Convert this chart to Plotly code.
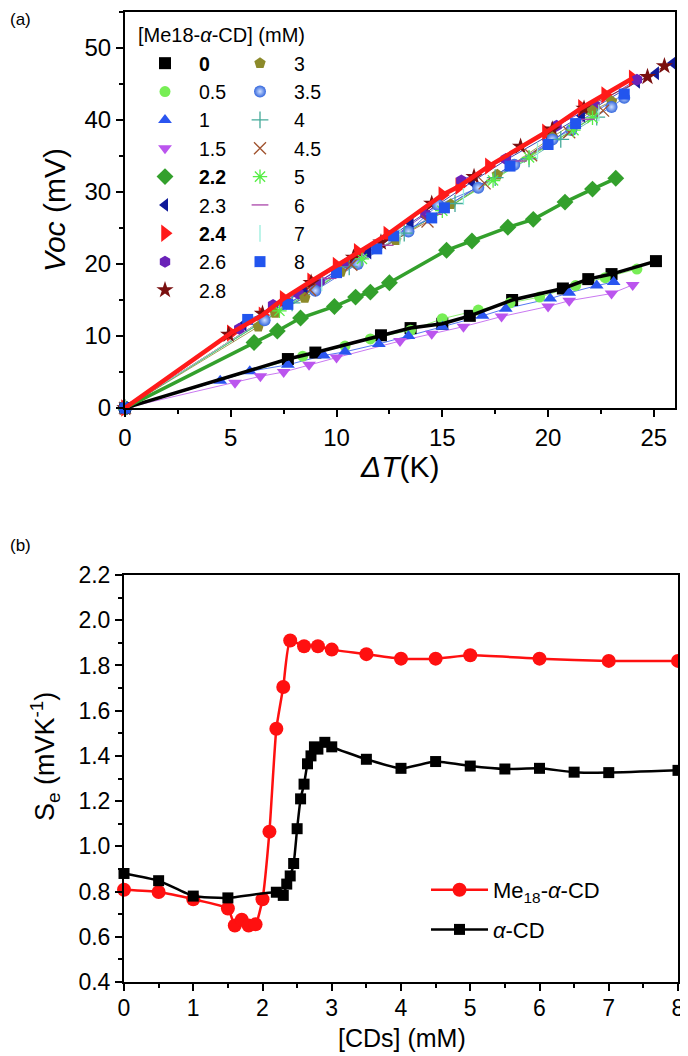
import plotly.graph_objects as go

# The page adds an 8 px body margin, so the figure is 8 px smaller on each side
# and reference pixel positions are shifted by 8 px.
W, H = 680, 1048
OFF = 8
FONT = "Liberation Sans, Arial, sans-serif"

# ---------------- Panel (a) data: Voc (mV) vs dT (K) ----------------
conc_labels = ["0", "0.5", "1", "1.5", "2.2", "2.3", "2.4", "2.6", "2.8",
               "3", "3.5", "4", "4.5", "5", "6", "7", "8"]

dT_0 = [0, 7.7, 9.0, 12.1, 13.5, 15.0, 16.3, 18.3, 20.7, 21.9, 23.0, 25.1]
voc_0 = [0, 6.8, 7.7, 10.1, 11.1, 11.7, 12.8, 15.0, 16.6, 17.9, 18.6, 20.4]
dT_05 = [0, 8.4, 10.4, 11.6, 13.5, 15.0, 16.7, 18.2, 19.6, 21.3, 22.7, 24.2]
voc_05 = [0, 7.2, 8.6, 9.6, 10.8, 12.4, 13.6, 14.6, 15.4, 17.0, 18.1, 19.3]
dT_1 = [0, 4.5, 5.9, 7.7, 9.4, 10.4, 12.0, 13.4, 15.0, 16.9, 18.0, 20.1, 21.0, 22.3, 23.1]
voc_1 = [0, 3.8, 5.1, 6.0, 7.3, 7.8, 8.9, 10.0, 11.3, 12.8, 13.8, 15.2, 16.0, 17.0, 17.5]
dT_15 = [0, 5.2, 6.4, 7.5, 8.7, 10.0, 13.0, 14.5, 16.0, 17.8, 20.0, 21.0, 23.0, 24.0]
voc_15 = [0, 3.5, 4.4, 5.0, 6.0, 7.0, 9.3, 10.3, 11.3, 12.7, 14.1, 14.9, 15.9, 17.1]
dT_22 = [0, 6.1, 7.2, 8.3, 9.9, 10.9, 11.6, 12.5, 15.2, 16.4, 18.1, 19.3, 20.8, 22.1, 23.2]
voc_22 = [0, 9.1, 10.7, 12.5, 14.1, 15.4, 16.1, 17.4, 21.9, 23.2, 25.1, 26.2, 28.6, 30.4, 31.9]
dT_23 = [0, 5.6, 7.5, 8.5, 11.5, 13.5, 16.4, 18.1, 20.0, 21.6, 24.2, 25.1, 25.9]
voc_23 = [0, 11.6, 14.6, 16.4, 21.6, 25.7, 31.4, 34.6, 37.8, 40.6, 45.3, 46.5, 47.9]
dT_24 = [0, 5.0, 6.5, 7.5, 8.8, 10.0, 11.0, 12.4, 15.0, 15.8, 17.2, 19.9, 21.6, 22.7, 24.0]
voc_24 = [0, 10.4, 12.9, 15.2, 17.6, 19.8, 21.7, 24.1, 29.6, 30.8, 33.6, 38.3, 41.7, 43.5, 45.8]
dT_26 = [0, 5.4, 7.0, 8.2, 9.2, 10.5, 12.7, 14.2, 15.9, 18.0, 20.4, 22.2, 24.2]
voc_26 = [0, 11.0, 14.3, 15.9, 17.6, 20.1, 23.8, 26.9, 31.6, 34.6, 39.2, 42.0, 45.6]
dT_28 = [0, 4.9, 6.5, 8.8, 10.8, 12.1, 14.5, 16.5, 18.7, 20.2, 21.7, 24.7, 25.5]
voc_28 = [0, 10.2, 13.1, 17.4, 20.9, 23.0, 28.4, 32.1, 36.3, 38.7, 41.6, 46.0, 47.5]
dT_3 = [0, 6.3, 7.1, 8.5, 10.2, 12.8, 15.4, 17.6, 20.2, 22.1, 23.0]
voc_3 = [0, 11.3, 13.2, 15.3, 18.9, 23.3, 28.3, 32.4, 37.6, 41.3, 42.6]
dT_35 = [0, 6.6, 9.0, 11.0, 13.4, 14.8, 16.7, 18.4, 20.2, 21.1, 23.0, 23.6]
voc_35 = [0, 12.2, 16.3, 20.0, 24.5, 28.2, 30.6, 33.8, 37.3, 38.6, 41.8, 43.1]
dT_4 = [0, 7.9, 10.6, 13.2, 15.6, 17.5, 19.1, 20.6, 22.3]
voc_4 = [0, 14.6, 19.6, 24.3, 28.4, 32.0, 34.6, 37.3, 40.4]
dT_45 = [0, 8.75, 10.7, 14.3, 17.0, 19.2, 21.0, 22.6]
voc_45 = [0, 16.4, 19.9, 25.9, 31.2, 35.1, 38.3, 41.3]
dT_5 = [0, 7.3, 11.2, 15.0, 17.4, 19.1, 21.2, 22.1]
voc_5 = [0, 13.5, 20.7, 27.4, 31.6, 34.8, 38.6, 40.3]
dT_6 = [0, 9.6, 12.3, 14.6, 18.6, 21.8]
voc_6 = [0, 18.0, 22.6, 26.9, 34.3, 40.1]
dT_7 = [0, 9.3, 13.0, 16.0, 19.5, 22.4]
voc_7 = [0, 17.4, 23.9, 29.4, 35.8, 41.0]
dT_8 = [0, 5.8, 7.7, 10.0, 11.9, 12.7, 14.5, 15.1, 18.2, 20.0, 21.3, 23.6]
voc_8 = [0, 12.3, 14.4, 18.8, 22.1, 23.9, 26.4, 27.8, 33.6, 36.6, 39.5, 43.6]

series_a = [
    # label, x, y, symbol, colour, size, legend column, bold
    ("0", dT_0, voc_0, "square", "#000000", 12, 1, True),
    ("0.5", dT_05, voc_05, "circle", "#77ee55", 11, 1, False),
    ("1", dT_1, voc_1, "triangle-up", "#2a55f0", 12, 1, False),
    ("1.5", dT_15, voc_15, "triangle-down", "#bb55ee", 12, 1, False),
    ("2.2", dT_22, voc_22, "diamond", "#33a02c", 13, 1, True),
    ("2.3", dT_23, voc_23, "triangle-left", "#101a99", 12, 1, False),
    ("2.4", dT_24, voc_24, "triangle-right", "#ff1a1a", 15, 1, True),
    ("2.6", dT_26, voc_26, "hexagon", "#6a22b8", 12, 1, False),
    ("2.8", dT_28, voc_28, "star", "#7a1010", 13, 1, False),
    ("3", dT_3, voc_3, "pentagon", "#8c8a2a", 12, 2, False),
    ("3.5", dT_35, voc_35, "circle", "#3366dd", 12, 2, False),
    ("4", dT_4, voc_4, "cross-thin", "#44aa99", 12, 2, False),
    ("4.5", dT_45, voc_45, "x-thin", "#a0522d", 12, 2, False),
    ("5", dT_5, voc_5, "asterisk", "#55ee44", 12, 2, False),
    ("6", dT_6, voc_6, "line-ew", "#aa44aa", 12, 2, False),
    ("7", dT_7, voc_7, "line-ns", "#99eedd", 12, 2, False),
    ("8", dT_8, voc_8, "square", "#2255ee", 11, 2, False),
]
thick = {"0": 3.5, "2.2": 3.5, "2.4": 4.5}

# ---------------- Panel (b) data: Se vs [CDs] ----------------
cd_me18 = [0, 0.5, 1, 1.5, 1.6, 1.7, 1.8, 1.9, 2.0, 2.1, 2.2, 2.3, 2.4, 2.6, 2.8, 3.0,
           3.5, 4, 4.5, 5, 6, 7, 8]
se_me18 = [0.808, 0.798, 0.766, 0.725, 0.650, 0.675, 0.650, 0.655, 0.766, 1.065, 1.52,
           1.705, 1.91, 1.885, 1.885, 1.87, 1.85, 1.83, 1.83, 1.845, 1.83, 1.82, 1.82]
cd_alpha = [0, 0.5, 1, 1.5, 2.2, 2.3, 2.35, 2.4, 2.45, 2.5, 2.55, 2.6, 2.65, 2.7,
            2.75, 2.8, 2.9, 3.0, 3.5, 4, 4.5, 5, 5.5, 6, 6.5, 7, 8]
se_alpha = [0.88, 0.848, 0.78, 0.772, 0.797, 0.783, 0.833, 0.869, 0.924, 1.078, 1.21,
            1.275, 1.365, 1.40, 1.44, 1.43, 1.46, 1.44, 1.385, 1.345, 1.375, 1.355,
            1.342, 1.345, 1.328, 1.326, 1.336]

fig = go.Figure()

# thin connecting lines (panel a)
for lab, xs, ys, sym, col, sz, lcol, bold in series_a:
    if lab in thick:
        continue
    fig.add_trace(go.Scatter(x=xs, y=ys, mode="lines", line=dict(color=col, width=0.8),
                             showlegend=False, hoverinfo="skip", xaxis="x", yaxis="y"))

# markers (panel a)
for lab, xs, ys, sym, col, sz, lcol, bold in series_a:
    marker = dict(symbol=sym, size=sz, color=col, line=dict(width=0))
    if sym in ("cross-thin", "x-thin", "asterisk", "line-ew", "line-ns"):
        marker["line"] = dict(color=col, width=1.3)
    if lab == "3.5":
        marker["gradient"] = dict(type="radial", color="#cfe0ff")
    name = f"<b>{lab}</b>" if bold else lab
    fig.add_trace(go.Scatter(
        x=xs, y=ys, mode="markers", marker=marker, name=name,
        legend="legend" if lcol == 1 else "legend2",
        cliponaxis=False, xaxis="x", yaxis="y"))

# thick lines (panel a)
for lab, xs, ys, sym, col, sz, lcol, bold in series_a:
    if lab in thick:
        fig.add_trace(go.Scatter(x=xs, y=ys, mode="lines",
                                 line=dict(color=col, width=thick[lab]),
                                 showlegend=False, hoverinfo="skip", xaxis="x", yaxis="y"))

# panel b
fig.add_trace(go.Scatter(
    x=cd_me18, y=se_me18, mode="lines+markers", name="Me<sub>18</sub>-<i>α</i>-CD",
    line=dict(color="#ff1010", width=2.5, shape="spline", smoothing=0.5),
    marker=dict(symbol="circle", size=14, color="#ff1010"),
    legend="legend3", legendgroup="g1", xaxis="x2", yaxis="y2", cliponaxis=False))
fig.add_trace(go.Scatter(
    x=cd_alpha, y=se_alpha, mode="lines+markers", name="<i>α</i>-CD",
    line=dict(color="#000000", width=2.5, shape="spline", smoothing=0.5),
    marker=dict(symbol="square", size=11, color="#000000"),
    legend="legend3", legendgroup="g2", xaxis="x2", yaxis="y2", cliponaxis=False))

def px_x(p):
    return (p - OFF) / W

def px_y(p):
    return 1 - (p - OFF) / H

axis_common = dict(showline=True, linecolor="black", linewidth=2, mirror=True,
                   ticks="outside", tickcolor="black", tickwidth=1.5, ticklen=7,
                   showgrid=False, zeroline=False, automargin=False,
                   tickfont=dict(family=FONT, size=24, color="black"))

fig.update_layout(
    width=W, height=H, margin=dict(l=0, r=0, t=0, b=0),
    paper_bgcolor="white", plot_bgcolor="white",
    font=dict(family=FONT, color="black"),
    xaxis=dict(domain=[px_x(125), px_x(675)], range=[0, 26], anchor="y",
               tickvals=[0, 5, 10, 15, 20, 25],
               minor=dict(ticks="outside", dtick=2.5, tick0=0, ticklen=4, tickcolor="black", tickwidth=1.5),
               **axis_common),
    yaxis=dict(domain=[px_y(408), px_y(12)], range=[0, 55], anchor="x",
               tickvals=[0, 10, 20, 30, 40, 50],
               minor=dict(ticks="outside", dtick=5, tick0=0, ticklen=4, tickcolor="black", tickwidth=1.5),
               **axis_common),
    xaxis2=dict(domain=[px_x(124), px_x(678)], range=[0, 8], anchor="y2",
                dtick=1, tick0=0, ticklabelstandoff=-3,
                minor=dict(ticks="outside", dtick=0.5, tick0=0, ticklen=4, tickcolor="black", tickwidth=1.5),
                **{**axis_common, "tickfont": dict(family=FONT, size=23, color="black")}),
    yaxis2=dict(domain=[px_y(982), px_y(575)], range=[0.4, 2.2], anchor="x2",
                dtick=0.2, tick0=0.4, tickformat=".1f",
                minor=dict(ticks="outside", dtick=0.1, tick0=0.4, ticklen=4, tickcolor="black", tickwidth=1.5),
                **{**axis_common, "tickfont": dict(family=FONT, size=23, color="black")}),
    legend=dict(x=px_x(131), y=px_y(44), xanchor="left", yanchor="top",
                bgcolor="rgba(0,0,0,0)", borderwidth=0, itemwidth=58,
                font=dict(family=FONT, size=19.5, color="black"), traceorder="normal"),
    legend2=dict(x=px_x(226), y=px_y(44), xanchor="left", yanchor="top",
                 bgcolor="rgba(0,0,0,0)", borderwidth=0, itemwidth=58,
                 font=dict(family=FONT, size=19.5, color="black"), traceorder="normal"),
    legend3=dict(x=px_x(426), y=px_y(869), xanchor="left", yanchor="top",
                 bgcolor="rgba(0,0,0,0)", borderwidth=0, itemwidth=57,
                 tracegroupgap=8, traceorder="grouped",
                 font=dict(family=FONT, size=22, color="black")),
    annotations=[
        dict(text="(a)", x=px_x(8), y=px_y(8), xref="paper", yref="paper",
             xanchor="left", yanchor="top", showarrow=False,
             font=dict(family=FONT, size=17)),
        dict(text="(b)", x=px_x(8), y=px_y(545), xref="paper", yref="paper",
             xanchor="left", yanchor="middle", showarrow=False,
             font=dict(family=FONT, size=17)),
        dict(text="[Me18-<i>α</i>-CD] (mM)", x=px_x(136), y=px_y(35), xref="paper", yref="paper",
             xanchor="left", yanchor="middle", showarrow=False,
             font=dict(family=FONT, size=20)),
        dict(text="<i>Voc</i> (mV)", x=px_x(55), y=px_y(210), xref="paper", yref="paper",
             xanchor="center", yanchor="middle", textangle=-90, showarrow=False,
             font=dict(family=FONT, size=30)),
        dict(text="<i>ΔT</i>(K)", x=px_x(400), y=px_y(467), xref="paper", yref="paper",
             xanchor="center", yanchor="middle", showarrow=False,
             font=dict(family=FONT, size=30)),
        dict(text="S<sub>e</sub> (mVK<sup>-1</sup>)", x=px_x(45), y=px_y(757), xref="paper", yref="paper",
             xanchor="center", yanchor="middle", textangle=-90, showarrow=False,
             font=dict(family=FONT, size=27)),
        dict(text="[CDs] (mM)", x=px_x(402), y=px_y(1038), xref="paper", yref="paper",
             xanchor="center", yanchor="middle", showarrow=False,
             font=dict(family=FONT, size=25)),
    ],
)

fig.write_html("out.html")
